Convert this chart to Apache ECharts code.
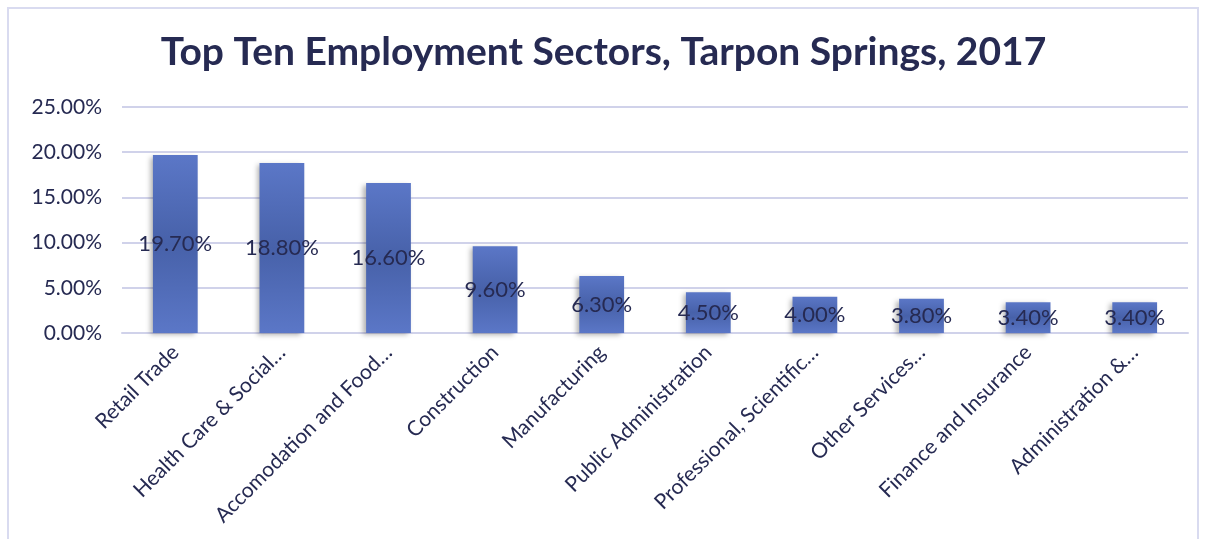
<!DOCTYPE html>
<html><head><meta charset="utf-8">
<script src="https://cdn.jsdelivr.net/npm/echarts@6/dist/echarts.min.js"></script>
<style>
html,body{margin:0;padding:0;background:#fff;}
#frame{position:absolute;left:7px;top:7px;width:1192px;height:540px;border:2px solid #d9dbf0;box-sizing:border-box;}
#c{position:absolute;left:0;top:0;width:1207px;height:539px;}
</style></head>
<body>
<div id="frame"></div>
<div id="c"></div>
<script>
const categories = ["Retail Trade","Health Care & Social…","Accomodation and Food…","Construction","Manufacturing","Public Administration","Professional, Scientific…","Other Services…","Finance and Insurance","Administration &…"];
const values = [19.7, 18.8, 16.6, 9.6, 6.3, 4.5, 4.0, 3.8, 3.4, 3.4];
const yTicks = [0, 5, 10, 15, 20, 25];
const titleText = "Top Ten Employment Sectors, Tarpon Springs, 2017";

const chart = echarts.init(document.getElementById('c'), null, {renderer:'canvas'});
const navy = '#262a52';
chart.setOption({
  animation:false,
  title:{text:titleText,left:'center',top:28,textStyle:{fontFamily:'Lato',fontWeight:'bold',fontSize:39,color:navy}},
  grid:{left:122,right:19,top:107,bottom:206,containLabel:false},
  xAxis:{type:'category',data:categories,
    axisLine:{lineStyle:{color:'#d0d2ea',width:2}},axisTick:{show:false},
    axisLabel:{rotate:45,interval:0,fontFamily:'Lato',fontSize:21,color:navy,margin:16}},
  yAxis:{type:'value',min:yTicks[0],max:yTicks[yTicks.length-1],interval:5,
    axisLine:{show:false},axisTick:{show:false},
    splitLine:{lineStyle:{color:'#d0d2ea',width:2}},
    axisLabel:{fontFamily:'Lato',fontSize:21,color:navy,margin:20,formatter:v=>v.toFixed(2)+'%'}},
  series:[{type:'bar',data:values,barWidth:'42%',
    itemStyle:{color:new echarts.graphic.LinearGradient(0,0,0,1,[
      {offset:0,color:'#5b77c7'},{offset:0.5,color:'#4761a9'},{offset:1,color:'#5b77c7'}]),
      shadowColor:'rgba(0,0,0,0.3)',shadowBlur:5,shadowOffsetX:-3,shadowOffsetY:2},
    label:{show:true,position:'inside',fontFamily:'Lato',fontSize:22,color:navy,formatter:p=>p.value.toFixed(2)+'%'}}]
});
</script>
</body></html>
